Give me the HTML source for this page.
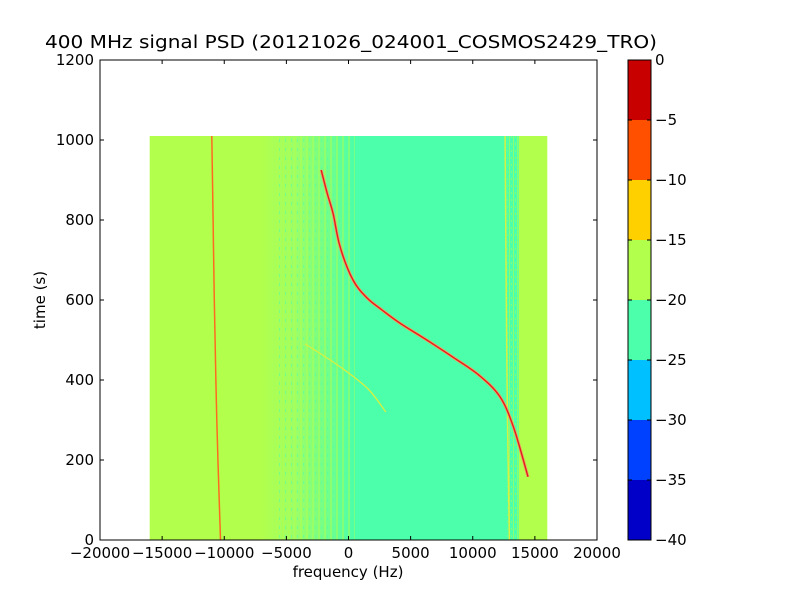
<!DOCTYPE html>
<html><head><meta charset="utf-8"><style>
body{margin:0;background:#fff;}
svg text{font-family:"DejaVu Sans","Liberation Sans",sans-serif;}
</style></head><body>
<svg id="c" width="800" height="600" xmlns="http://www.w3.org/2000/svg">
<defs>
<linearGradient id="tr" x1="0" x2="1" y1="0" y2="0">
<stop offset="0" stop-color="#b2ff4c"/><stop offset="0.35" stop-color="#9dff66"/><stop offset="0.75" stop-color="#6cff90"/><stop offset="1" stop-color="#4cffaa"/>
</linearGradient>
<pattern id="st" width="6" height="9" patternUnits="userSpaceOnUse">
<rect x="0" y="0" width="2" height="9" fill="#b2ff4c" opacity="0.45"/>
<rect x="3" y="4" width="1" height="3" fill="#4cffaa" opacity="0.5"/>
</pattern>
<pattern id="st2" width="4" height="7" patternUnits="userSpaceOnUse">
<rect x="0" y="0" width="4" height="7" fill="#4cffaa"/>
<rect x="1" y="0" width="1" height="7" fill="#b2ff4c" opacity="0.6"/>
<rect x="3" y="3" width="1" height="2" fill="#b2ff4c" opacity="0.5"/>
</pattern>
</defs>
<text x="351" y="48" font-size="18" text-anchor="middle" textLength="612" lengthAdjust="spacingAndGlyphs">400 MHz signal PSD (20121026_024001_COSMOS2429_TRO)</text>
<g id="plot"></g>
<text x="348" y="577" font-size="15" text-anchor="middle">frequency (Hz)</text>
<text transform="translate(45,300) rotate(-90)" font-size="15" text-anchor="middle">time (s)</text>
</svg>
<script>
const xTicks=[-20000,-15000,-10000,-5000,0,5000,10000,15000,20000];
const yTicks=[0,200,400,600,800,1000,1200];
const cbLevels=[-40,-35,-30,-25,-20,-15,-10,-5,0];
const cbColors=["#0000c8","#0040ff","#00c0ff","#4cffaa","#b2ff4c","#ffd000","#ff5000","#c80000"];
const mainFreq=[-2200,-1700,-1230,-680,362,1500,2700,4145,6300,8410,10500,12190,13300,14450];
const mainTime=[925,865,815,733,650,605,575,542,500,457,412,358,280,158];
const leftFreq=[-11000,-10900,-10800,-10600,-10300];
const leftTime=[1010,800,600,300,0];
const vertFreq=[12600,12650,12700,12800,12950];
const vertTime=[1010,800,600,300,0];
const diagFreq=[-3500,-1000,1500,3000];
const diagTime=[490,440,380,320];
const xMin=-20000,xMax=20000,yMin=0,yMax=1200;
const L=100,R=597,T=60,B=540;
const X=v=>L+(v-xMin)/(xMax-xMin)*(R-L);
const Y=v=>B-(v-yMin)/(yMax-yMin)*(B-T);
const NS="http://www.w3.org/2000/svg";
const g=document.getElementById('plot');
function mk(t,a,p){const e=document.createElementNS(NS,t);for(const k in a)e.setAttribute(k,a[k]);(p||g).appendChild(e);return e;}
let e;
e=mk('rect',{x:X(-16000),y:Y(1010),width:X(16000)-X(-16000),height:Y(0)-Y(1010),fill:'#b2ff4c'});


e=mk('rect',{x:X(-7000),y:Y(1010),width:X(500)-X(-7000),height:Y(0)-Y(1010),fill:'url(#tr)'});


e=mk('rect',{x:X(500),y:Y(1010),width:X(12800)-X(500),height:Y(0)-Y(1010),fill:'#4cffaa'});


e=mk('rect',{x:X(-6000),y:Y(1010),width:X(500)-X(-6000),height:Y(0)-Y(1010),fill:'url(#st)'});


e=mk('rect',{x:X(12800),y:Y(1010),width:X(13700)-X(12800),height:Y(0)-Y(1010),fill:'url(#st2)'});


function smooth(fx,ty){
 const P=fx.map((f,i)=>[X(f),Y(ty[i])]);
 let d='M'+P[0][0].toFixed(1)+' '+P[0][1].toFixed(1);
 for(let i=0;i<P.length-1;i++){
  const p0=P[Math.max(0,i-1)],p1=P[i],p2=P[i+1],p3=P[Math.min(P.length-1,i+2)];
  const c1=[p1[0]+(p2[0]-p0[0])/6,p1[1]+(p2[1]-p0[1])/6];
  const c2=[p2[0]-(p3[0]-p1[0])/6,p2[1]-(p3[1]-p1[1])/6];
  d+=' C'+c1.map(v=>v.toFixed(1)).join(' ')+' '+c2.map(v=>v.toFixed(1)).join(' ')+' '+p2.map(v=>v.toFixed(1)).join(' ');
 }
 return d;
}
function line(fx,ty,col,w,name){
 const p=mk('path',{d:smooth(fx,ty),fill:'none',stroke:col,'stroke-width':w,'stroke-linejoin':'round'});
 
 
}
line(vertFreq,vertTime,'#d8f040',1.5,'carrier-line-right');
line(diagFreq,diagTime,'#d8f040',1.3,'faint-diagonal-trace');
line(leftFreq,leftTime,'#ff6a20',1.5,'carrier-line-left');
line(mainFreq,mainTime,'#f0a060',3,'doppler-curve-halo');
line(mainFreq,mainTime,'#e02020',1.4,'doppler-curve');
e=mk('rect',{x:L,y:T,width:R-L,height:B-T,fill:'none',stroke:'#000','stroke-width':1});


xTicks.forEach(v=>{const x=X(v);
 mk('line',{x1:x,x2:x,y1:B,y2:B-4,stroke:'#000'});mk('line',{x1:x,x2:x,y1:T,y2:T+4,stroke:'#000'});
 const t=mk('text',{x:x,y:B+18,'font-size':15,'text-anchor':'middle'});t.textContent=v<0?'\u2212'+(-v):v;
 
 
});
yTicks.forEach(v=>{const y=Y(v);
 mk('line',{x1:L,x2:L+4,y1:y,y2:y,stroke:'#000'});mk('line',{x1:R,x2:R-4,y1:y,y2:y,stroke:'#000'});
 const t=mk('text',{x:L-6,y:y+5,'font-size':15,'text-anchor':'end'});t.textContent=v;
 
 
});
const cL=628,cW=23,cT=60,cB=540;
const CY=v=>cB-(v-cbLevels[0])/(cbLevels[cbLevels.length-1]-cbLevels[0])*(cB-cT);
cbColors.forEach((c,i)=>{
 const r=mk('rect',{x:cL,y:CY(cbLevels[i+1]),width:cW,height:CY(cbLevels[i])-CY(cbLevels[i+1]),fill:c});
 
 
});
e=mk('rect',{x:cL,y:cT,width:cW,height:cB-cT,fill:'none',stroke:'#000'});


cbLevels.forEach(v=>{const y=CY(v);
 mk('line',{x1:cL,x2:cL+4,y1:y,y2:y,stroke:'#000'});mk('line',{x1:cL+cW,x2:cL+cW-4,y1:y,y2:y,stroke:'#000'});
 const t=mk('text',{x:cL+cW+4,y:y+5,'font-size':15});t.textContent=v<0?'\u2212'+(-v):v;
 
 
});
</script>
</body></html>
